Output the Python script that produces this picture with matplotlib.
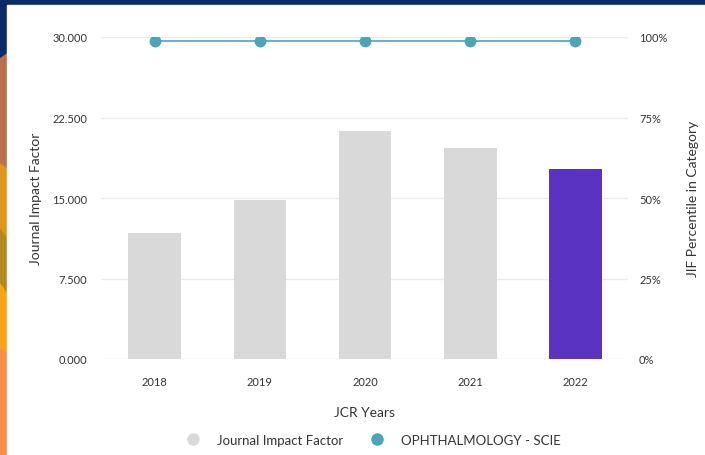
import numpy as np
import matplotlib.pyplot as plt
from matplotlib.patches import Rectangle, Polygon
from matplotlib.lines import Line2D

plt.rcParams['font.family'] = ['Lato', 'DejaVu Sans']

# data
years = ['2018', '2019', '2020', '2021', '2022']
jif = [11.75, 14.8, 21.2, 19.7, 17.7]
percentile = [98.8, 98.8, 98.8, 98.8, 98.8]
jif_ticks = [0, 7.5, 15, 22.5, 30]
pct_ticks = [0, 25, 50, 75, 100]

bar_grey = '#d9d9d9'
bar_hi = '#5b33c2'
teal = '#4ba5b7'
txt = '#333333'

fig = plt.figure(figsize=(7.05, 4.56), dpi=100)
fig.patch.set_facecolor('#0d2b67')

# left decorative strip
W, H = 705, 456
def fpoly(pts, color):
    fig.patches.append(Polygon([(x / W, 1 - y / H) for x, y in pts], closed=True,
                               transform=fig.transFigure, color=color, zorder=-10))
fpoly([(0, 60), (7, 55), (7, 170), (0, 165)], '#b8714f')
fpoly([(0, 165), (7, 170), (7, 240), (0, 230)], '#e0961d')
fpoly([(0, 230), (7, 240), (7, 295), (0, 285)], '#b38a22')
fpoly([(0, 285), (7, 295), (7, 355), (0, 350)], '#f6a31a')
fpoly([(0, 350), (7, 355), (7, 456), (0, 456)], '#f78f4c')
# white card
fig.patches.append(Rectangle((7 / W, 0), 1 - 7 / W, 1 - 6 / H, transform=fig.transFigure,
                             color='white', zorder=-10))

ax = fig.add_axes([101 / W, 1 - 360 / H, 527 / W, 322 / H])
ax.set_facecolor('none')
x = np.arange(len(years))
colors = [bar_grey] * (len(years) - 1) + [bar_hi]
ax.bar(x, jif, width=0.5, color=colors, zorder=2)
ax.set_xlim(-0.51, 4.5)
ax.set_ylim(0, 30)
ax.set_yticks(jif_ticks)
ax.set_yticklabels(['%.3f' % v for v in jif_ticks])
ax.set_xticks(x)
ax.set_xticklabels(years)
ax.grid(axis='y', color='#ebebeb', lw=1, zorder=0)
for s in ax.spines.values():
    s.set_visible(False)
ax.tick_params(length=0, labelsize=8, colors=txt, pad=10)
ax.tick_params(axis='x', pad=12)
ax.set_ylabel('Journal Impact Factor', fontsize=10, color=txt, labelpad=7)
ax.set_xlabel('JCR Years', fontsize=10, color=txt, labelpad=14)

ax2 = ax.twinx()
ax2.plot(x, percentile, color=teal, lw=1.2, marker='o', ms=7.5, zorder=3)
ax2.set_ylim(0, 100)
ax2.set_yticks(pct_ticks)
ax2.set_yticklabels(['%d%%' % v for v in pct_ticks])
for s in ax2.spines.values():
    s.set_visible(False)
ax2.tick_params(length=0, labelsize=8, colors=txt, pad=8)
ax2.set_ylabel('JIF Percentile in Category', fontsize=10, color=txt, labelpad=14)

handles = [Line2D([], [], ls='none', marker='o', ms=8, color=bar_grey),
           Line2D([], [], ls='none', marker='o', ms=8, color=teal)]
fig.legend(handles, ['Journal Impact Factor', 'OPHTHALMOLOGY - SCIE'], loc='center',
           bbox_to_anchor=(370 / W, 1 - 441 / H), ncol=2, frameon=False, fontsize=9.5,
           labelcolor=txt, columnspacing=1.6, handletextpad=0.8)

fig.savefig('out.png', dpi=100, facecolor=fig.get_facecolor())
